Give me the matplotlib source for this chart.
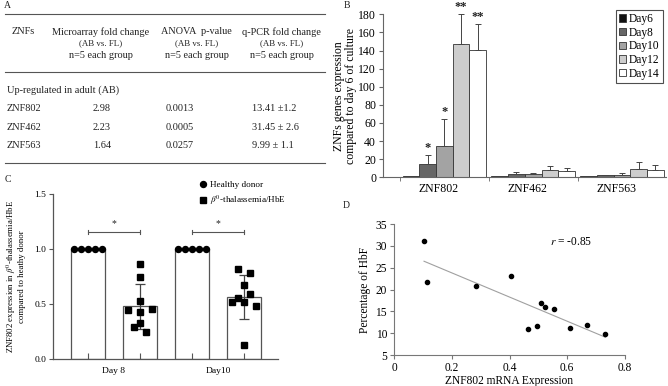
import numpy as np
import matplotlib
matplotlib.use("Agg")
import matplotlib.pyplot as plt
from matplotlib.lines import Line2D

plt.rcParams['font.family'] = ['Liberation Serif', 'DejaVu Serif']
plt.rcParams['mathtext.fontset'] = 'stix'

# ---------------- data ----------------
# Panel A table
table_genes = ["ZNF802", "ZNF462", "ZNF563"]
table_microarray = ["2.98", "2.23", "1.64"]
table_anova = ["0.0013", "0.0005", "0.0257"]
table_qpcr = ["13.41 \u00b11.2", "31.45 \u00b1 2.6", "9.99 \u00b1 1.1"]
table_headers = ["Microarray fold change", "ANOVA  p-value", "q-PCR fold change"]

# Panel B
b_genes = ["ZNF802", "ZNF462", "ZNF563"]
b_days = ["Day6", "Day8", "Day10", "Day12", "Day14"]
b_colors = ["#111111", "#666666", "#a3a3a3", "#cdcdcd", "#ffffff"]
b_values = {
    "Day6":  [1.0, 1.0, 1.0],
    "Day8":  [14.7, 3.7, 2.0],
    "Day10": [35.0, 3.3, 2.2],
    "Day12": [146.9, 7.7, 9.6],
    "Day14": [140.2, 6.6, 7.7],
}
b_errors = {
    "Day6":  [0.0, 0.0, 0.0],
    "Day8":  [9.6, 1.8, 0.3],
    "Day10": [29.4, 1.9, 2.2],
    "Day12": [33.1, 5.2, 7.0],
    "Day14": [29.1, 3.7, 5.9],
}
b_stars = {"Day8": ["*", "", ""], "Day10": ["*", "", ""],
           "Day12": ["**", "", ""], "Day14": ["**", "", ""]}

# Panel C
c_days = ["Day 8", "Day10"]
c_healthy = [[1.0, 1.0, 1.0, 1.0, 1.0], [1.0, 1.0, 1.0, 1.0, 1.0]]
c_thal = [
    [0.864, 0.749, 0.526, 0.444, 0.426, 0.456, 0.329, 0.290, 0.248],
    [0.816, 0.785, 0.677, 0.595, 0.559, 0.520, 0.520, 0.483, 0.127],
]
c_thal_offsets = [
    [0, 0, 0, -2, 0, 2, 0, -1, 1],
    [-1, 1, 0, 1, -1, -2, 0, 2, 0],
]
c_thal_sd = [0.205, 0.20]
c_sig_y = 1.157

# Panel D
d_x = [0.104, 0.114, 0.284, 0.406, 0.463, 0.496, 0.510, 0.524, 0.554, 0.611, 0.668, 0.732]
d_y = [31.2, 21.8, 20.9, 23.1, 11.0, 11.6, 16.9, 16.1, 15.5, 11.2, 11.8, 9.7]
d_r = -0.85

W, H = 668, 386
fig = plt.figure(figsize=(W / 100, H / 100), dpi=100)


def fx(px):
    return px / W


def fy(py):
    return 1 - py / H


def axrect(l, t, r, b):
    return [fx(l), fy(b), (r - l) / W, (b - t) / H]


# ---------------- Panel A (table) ----------------
fs_t = 7.4
tc = '#222222'
fig.text(fx(4), fy(5), "A", fontsize=7, va='center', ha='left', color=tc)
for yy in (14.3, 72.3, 163.3):
    fig.add_artist(Line2D([fx(5), fx(325)], [fy(yy)] * 2, color='#555555', lw=0.8))
fig.text(fx(12), fy(32), "ZNFs", fontsize=fs_t, ha='left', va='center', color=tc)
for cx, hdr in zip([100.7, 196.7, 281.7], table_headers):
    fig.text(fx(cx), fy(32), hdr, fontsize=fs_t, ha='center', va='center', color=tc)
    fig.text(fx(cx), fy(43.5), "(AB vs. FL)", fontsize=6.4, ha='center', va='center', color=tc)
    fig.text(fx(cx), fy(55.7), "n=5 each group", fontsize=fs_t, ha='center', va='center', color=tc)
fig.text(fx(7), fy(90), "Up-regulated in adult (AB)", fontsize=fs_t, ha='left', va='center', color=tc)
for yy, g, m, a, q in zip([108.3, 127.3, 145.7], table_genes, table_microarray, table_anova, table_qpcr):
    fig.text(fx(7), fy(yy), g, fontsize=fs_t, ha='left', va='center', color=tc)
    fig.text(fx(93), fy(yy), m, fontsize=fs_t, ha='left', va='center', color=tc)
    fig.text(fx(166), fy(yy), a, fontsize=fs_t, ha='left', va='center', color=tc)
    fig.text(fx(252), fy(yy), q, fontsize=fs_t, ha='left', va='center', color=tc)

# ---------------- Panel B ----------------
fig.text(fx(344), fy(5), "B", fontsize=7, va='center', ha='left', color=tc)
axB = fig.add_axes(axrect(383, 14.3, 666, 177.3))
bw = 0.188
xg = np.arange(len(b_genes))
for i, d in enumerate(b_days):
    xs = xg + (i - 2) * bw
    axB.bar(xs, b_values[d], width=bw, color=b_colors[i], edgecolor='#333333',
            linewidth=0.6, label=d, zorder=2)
    errs = np.array(b_errors[d])
    vals = np.array(b_values[d])
    mask = errs > 0
    axB.errorbar(xs[mask], vals[mask], yerr=[np.zeros(mask.sum()), errs[mask]],
                 fmt='none', ecolor='#444444', elinewidth=0.7, capsize=2.2,
                 capthick=0.7, zorder=3)
    if d in b_stars:
        for x0, v, e, s in zip(xs, vals, errs, b_stars[d]):
            if s:
                axB.text(x0, v + e + 1, s, ha='center', va='bottom', fontsize=9,
                         fontweight='bold', color='#222222', clip_on=False)
axB.set_xlim(-0.69, 2.495)
axB.set_ylim(0, 180)
axB.set_yticks(np.arange(0, 181, 20))
axB.set_xticks(xg - 0.06)
axB.set_xticklabels(b_genes)
axB.set_xticks([-0.5, 0.5, 1.5], minor=True)
axB.tick_params(axis='x', which='major', length=0, labelsize=8.5, pad=4)
axB.tick_params(axis='x', which='minor', length=3, direction='out', color='#666666')
axB.tick_params(axis='y', labelsize=8.5, length=3, color='#666666', pad=2)
for s in ('top', 'right'):
    axB.spines[s].set_visible(False)
for s in ('left', 'bottom'):
    axB.spines[s].set_color('#666666')
    axB.spines[s].set_linewidth(0.8)
axB.set_ylabel("ZNFs genes expression\ncompared to day 6 of culture", fontsize=8.5,
               labelpad=1, linespacing=1.0)
legB = axB.legend(loc='upper right', bbox_to_anchor=(fx(663), fy(9.5)),
                  bbox_transform=fig.transFigure, fontsize=8.3, frameon=True,
                  fancybox=False, edgecolor='#222222', handlelength=0.6,
                  handleheight=0.6, handletextpad=0.25, labelspacing=0.15,
                  borderpad=0.3, borderaxespad=0)
legB.get_frame().set_linewidth(0.8)

# ---------------- Panel C ----------------
fig.text(fx(5), fy(180), "C", fontsize=7, va='center', ha='left', color=tc)
axC = fig.add_axes(axrect(53, 194, 278, 359))
cw = 0.654
pos_h = np.array([0, 2])
pos_t = np.array([1, 3])
mean_h = [np.mean(v) for v in c_healthy]
mean_t = [np.mean(v) for v in c_thal]
axC.bar(pos_h, mean_h, width=cw, color='white', edgecolor='#555555', linewidth=0.9, zorder=1)
axC.bar(pos_t, mean_t, width=cw, color='white', edgecolor='#555555', linewidth=0.9, zorder=1)
axC.errorbar(pos_t, mean_t, yerr=c_thal_sd, fmt='none', ecolor='#444444',
             elinewidth=0.9, capsize=3.5, capthick=0.9, zorder=2)
for p, vals in zip(pos_h, c_healthy):
    offs = (np.arange(len(vals)) - (len(vals) - 1) / 2) * 0.135
    axC.plot(p + offs, vals, 'o', color='black', ms=4.3, zorder=3, clip_on=False)
for p, vals, offs in zip(pos_t, c_thal, c_thal_offsets):
    axC.plot(p + np.array(offs) * 0.115, vals, 's', color='black', ms=4.3, zorder=3)
for a, b in zip(pos_h, pos_t):
    axC.plot([a, b], [c_sig_y, c_sig_y], color='#555555', lw=0.8)
    for xx in (a, b):
        axC.plot([xx, xx], [c_sig_y - 0.02, c_sig_y + 0.02], color='#555555', lw=0.8)
    axC.text((a + b) / 2, c_sig_y + 0.03, "*", ha='center', va='bottom', fontsize=7, color='#222222')
axC.set_xlim(-0.673, 3.654)
axC.set_ylim(0, 1.5)
axC.set_yticks([0, 0.5, 1.0, 1.5])
axC.set_yticklabels(["0.0", "0.5", "1.0", "1.5"])
axC.set_xticks(np.concatenate([pos_h, pos_t]))
axC.set_xticklabels([])
axC.tick_params(axis='x', direction='in', length=4, color='#555555')
axC.tick_params(axis='y', labelsize=6.8, length=3, color='#555555', pad=2)
for s in ('top', 'right'):
    axC.spines[s].set_visible(False)
for s in ('left', 'bottom'):
    axC.spines[s].set_color('#555555')
    axC.spines[s].set_linewidth(0.9)
for lbl, a, b in zip(c_days, pos_h, pos_t):
    axC.text((a + b) / 2, -0.11, lbl, ha='center', va='center', fontsize=6.8,
             transform=axC.transData, clip_on=False)
axC.set_ylabel(r"ZNF802 expression in $\beta^0$-thalassemia/HbE" + "\ncompared to heathy donor",
               fontsize=6.3, labelpad=6, linespacing=1.05)
hC = [Line2D([], [], marker='o', ls='none', color='black', ms=4.3),
      Line2D([], [], marker='s', ls='none', color='black', ms=4.3)]
axC.legend(hC, ["Healthy donor", r"$\beta^0$-thalassemia/HbE"], loc='upper left',
           bbox_to_anchor=(fx(198), fy(181)), bbox_transform=fig.transFigure,
           frameon=False, fontsize=6.6, handletextpad=0.3, labelspacing=0.5,
           borderpad=0, borderaxespad=0, handlelength=1.0)

# ---------------- Panel D ----------------
fig.text(fx(343), fy(205), "D", fontsize=7, va='center', ha='left', color=tc)
axD = fig.add_axes(axrect(394, 224, 625, 355))
axD.plot(d_x, d_y, 'o', color='black', ms=3.0, zorder=3)
coef = np.polyfit(d_x, d_y, 1)
xl = np.array([min(d_x), max(d_x)])
axD.plot(xl, np.polyval(coef, xl), color='#a0a0a0', lw=0.8, zorder=2)
axD.text(0.54, 30.8, r"$r$ = " + f"{d_r:.2f}", fontsize=8.3, ha='left', va='center')
axD.set_xlim(0, 0.8)
axD.set_ylim(5, 35)
axD.set_xticks([0, 0.2, 0.4, 0.6, 0.8])
axD.set_xticklabels(["0", "0.2", "0.4", "0.6", "0.8"])
axD.set_yticks(np.arange(5, 36, 5))
axD.tick_params(labelsize=8.3, length=3, color='#777777', pad=2)
for s in ('top', 'right'):
    axD.spines[s].set_visible(False)
for s in ('left', 'bottom'):
    axD.spines[s].set_color('#777777')
    axD.spines[s].set_linewidth(0.8)
axD.set_xlabel("ZNF802 mRNA Expression", fontsize=8.3, labelpad=1)
axD.set_ylabel("Percentage of HbF", fontsize=8.3, labelpad=3)

fig.savefig("out.png", dpi=100)
